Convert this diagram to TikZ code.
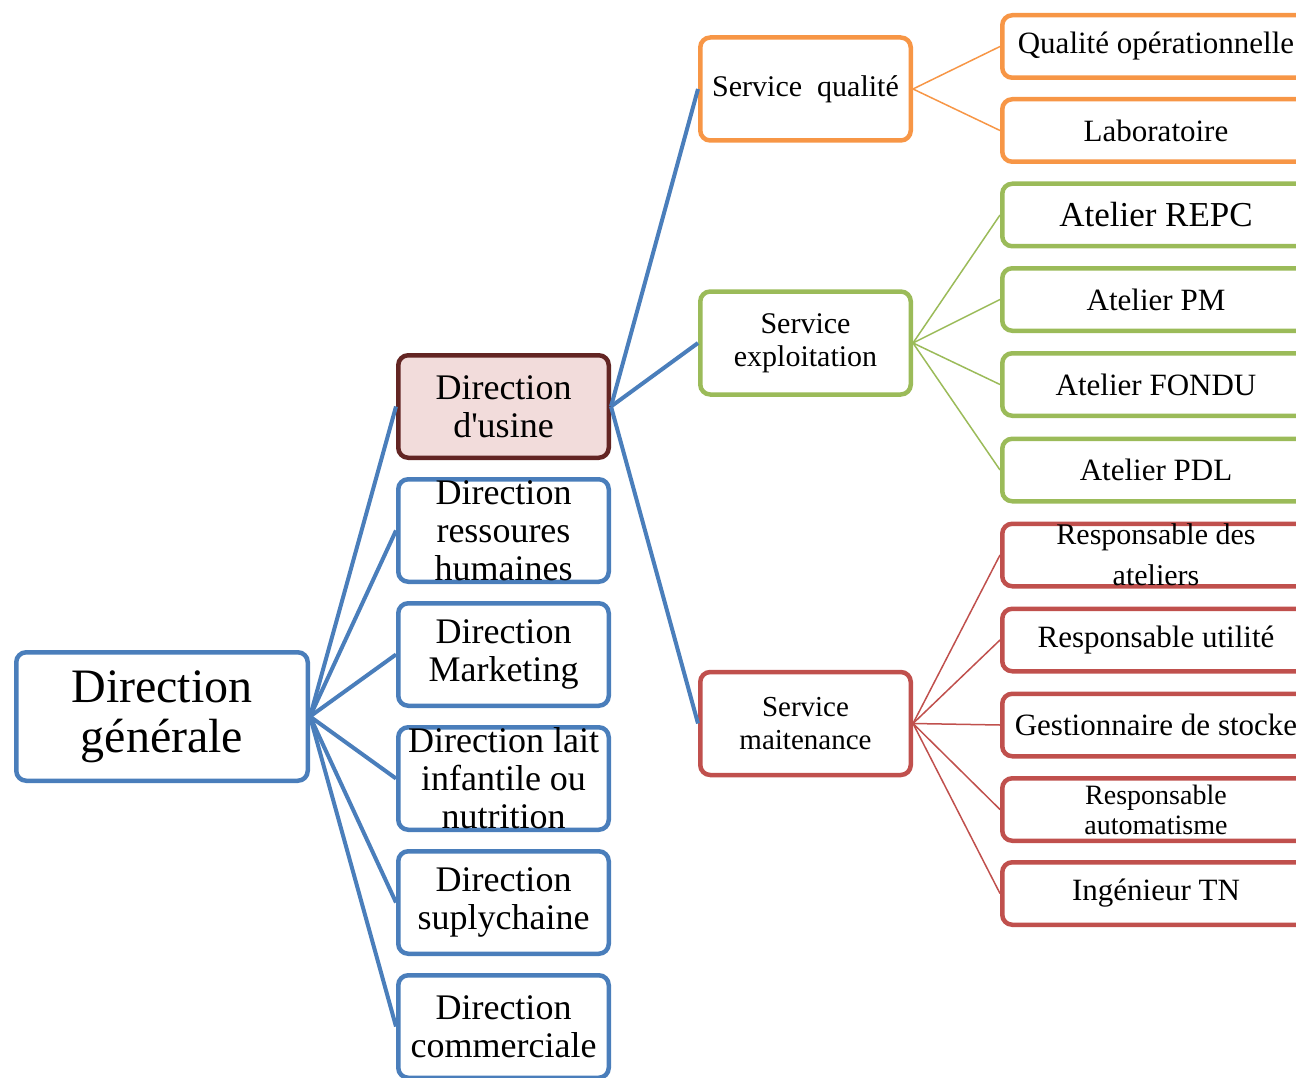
\documentclass[tikz,border=0pt]{standalone}
\usepackage{fontspec}
\setmainfont{Liberation Serif}

\definecolor{dirblue}{HTML}{4A7EBB}
\definecolor{usinered}{HTML}{632523}
\definecolor{usinefill}{HTML}{F2DCDB}
\definecolor{qualorange}{HTML}{F79646}
\definecolor{expgreen}{HTML}{9BBB59}
\definecolor{mainred}{HTML}{C0504D}

\begin{document}
\begin{tikzpicture}[x=1pt, y=-1pt]
  \tikzset{
    box/.style={
      draw, rounded corners=10pt, line width=4.5pt, align=center, inner sep=0pt, fill=white
    },
    dnode/.style={
      box, draw=dirblue, minimum width=210.5pt, minimum height=102.5pt,
      font=\fontsize{36}{38}\selectfont
    },
    snode/.style={
      box, minimum width=210.5pt, minimum height=103pt,
      font=\fontsize{30}{33}\selectfont
    },
    rnode/.style={
      box, minimum width=307.5pt, minimum height=62.5pt,
      font=\fontsize{31}{33}\selectfont
    },
    thick link/.style={
      draw=dirblue, line width=4pt
    },
    thin link/.style={
      line width=1.5pt
    }
  }

  \path[use as bounding box] (0,0) rectangle (1296,1078);
  \clip (0,0) rectangle (1296,1078);

  % directions
  \node [dnode, minimum width=291.5pt, minimum height=128.5pt, font=\fontsize{48}{50}\selectfont]
    (dg) at (162, 716.5) {Direction\\générale};
  \node [dnode, draw=usinered, fill=usinefill] (du) at (503.5, 406.5) {Direction\\d\textquotesingle usine};
  \foreach \n/\y/\t in {drh/530.5/{Direction\\ressoures\\humaines},
                        dm/654.5/{Direction\\Marketing},
                        dl/778.5/{Direction lait\\infantile ou\\nutrition},
                        ds/902.5/{Direction\\suplychaine},
                        dc/1026.5/{Direction\\commerciale}} {
    \node [dnode] (\n) at (503.5, \y) {\t};
  }

  % services
  \node [snode, draw=qualorange] (sq) at (805.5, 89) {Service\ \ qualité};
  \node [snode, draw=expgreen] (se) at (805.5, 343) {Service\\exploitation};
  \node [snode, draw=mainred, font=\fontsize{29}{33}\selectfont] (sm) at (805.5, 723.5) {Service\\maitenance};

  \foreach \n/\y/\t in {q1/46.5/{Qualité opérationnelle}, q2/130.5/Laboratoire} {
    \node [rnode, draw=qualorange] (\n) at (1156, \y) {\t};
  }
  \node [rnode, draw=expgreen, font=\fontsize{35}{38}\selectfont] (e1) at (1156, 215) {Atelier REPC};
  \foreach \n/\y/\t in {e2/299.5/{Atelier PM}, e3/384.5/{Atelier FONDU}, e4/470/{Atelier PDL}} {
    \node [rnode, draw=expgreen] (\n) at (1156, \y) {\t};
  }
  \node [rnode, draw=mainred, font=\fontsize{30}{41}\selectfont] (m1) at (1156, 555) {Responsable des\\ateliers};
  \foreach \n/\y/\t in {m2/640/{Responsable utilité}, m3/725/{Gestionnaire de stocke}, m5/893.5/{Ingénieur TN}} {
    \node [rnode, draw=mainred] (\n) at (1156, \y) {\t};
  }
  \node [rnode, draw=mainred, font=\fontsize{28}{30}\selectfont] (m4) at (1156, 809.5) {Responsable\\automatisme};

  % links
  \foreach \n in {du, drh, dm, dl, ds, dc} {
    \path (dg.east) edge [thick link] (\n.west);
  }
  \foreach \n in {sq, se, sm} {
    \path (du.east) edge [thick link] (\n.west);
  }
  \foreach \n in {q1, q2} {
    \path (sq.east) edge [thin link, draw=qualorange] (\n.west);
  }
  \foreach \n in {e1, e2, e3, e4} {
    \path (se.east) edge [thin link, draw=expgreen] (\n.west);
  }
  \foreach \n in {m1, m2, m3, m4, m5} {
    \path (sm.east) edge [thin link, draw=mainred] (\n.west);
  }
\end{tikzpicture}
\end{document}
